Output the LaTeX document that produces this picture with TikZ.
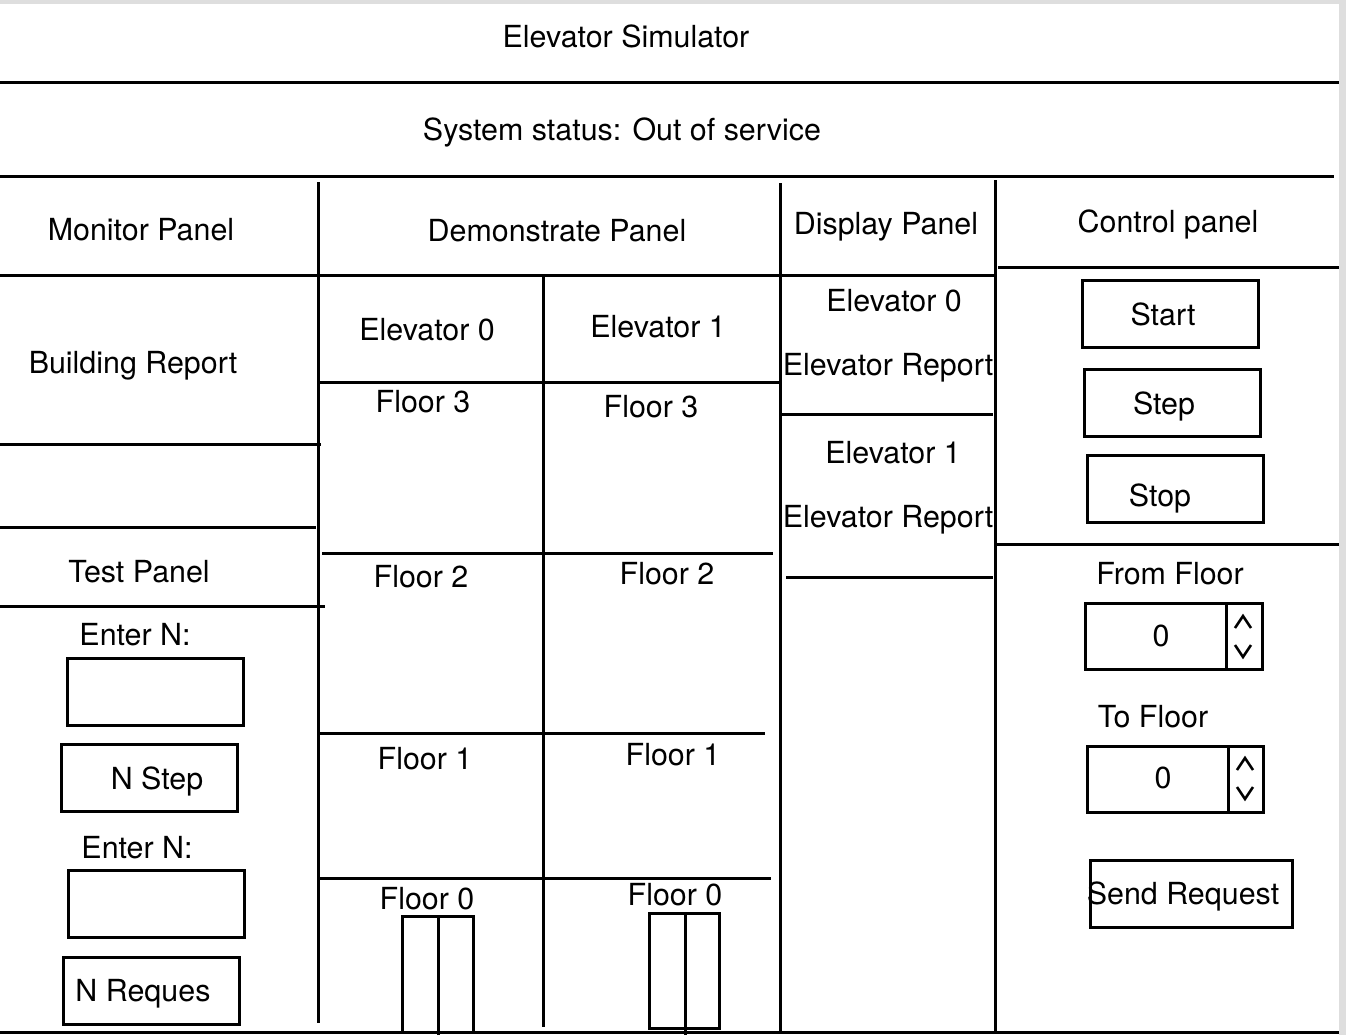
\documentclass[tikz,border=0pt]{standalone}
\usepackage{fontspec}
\setmainfont{TeX Gyre Heros}
\usetikzlibrary{positioning}

\begin{document}
\begin{tikzpicture}[x=0.5pt,y=-0.5pt,
        lbl/.style={font=\fontsize{15.2}{17}\selectfont, inner sep=0pt, text depth=0pt},
        wall/.style={line width=1.5pt},
        btn/.style={draw, line width=1.5pt, inner sep=0pt,
                minimum width=88pt, minimum height=33.5pt},
        chev/.style={line width=1.3pt}]

        % page
        \fill[black!13] (0,0) rectangle (1346,1035);
        \fill[white] (0,4) rectangle (1339,1035);
        \useasboundingbox (0,0) rectangle (1346,1035);

        % header
        \node [lbl] (title) at (626,36) {Elevator Simulator};
        \node [lbl] (status) at (622,129) {System status: Out of service};
        \draw [wall] (0,82) -- (1339,82);
        \draw [wall] (0,176) -- (1334,176);
        \draw [wall] (0,1032) -- (1339,1032);

        % columns
        \draw [wall] (318,182) -- (318,1023);
        \draw [wall] (543,277) -- (543,1027);
        \draw [wall] (780,183) -- (780,1032);
        \draw [wall] (995,180) -- (995,1032);
        \draw [wall] (0,275) -- (995,275);
        \draw [wall] (998,267) -- (1339,267);

        % monitor and test panel
        \node [lbl] (monitor) at (141,229) {Monitor Panel};
        \node [lbl] (building) at (133,362) {Building Report};
        \draw [wall] (0,444) -- (321,444);
        \draw [wall] (0,527) -- (316,527);
        \node [lbl] (test) at (139,571) {Test Panel};
        \draw [wall] (0,606) -- (325,606);
        \node [lbl] (enter0) at (135,634) {Enter N:};
        \node [btn] (field0) at (155,692) {};
        \node [btn] (nstep) at (149.5,778) {};
        \node [lbl] (nsteplbl) at (157,778) {N Step};
        \node [lbl] (enter1) at (137,847) {Enter N:};
        \node [btn] (field1) at (156.5,904) {};
        \node [btn] (nreq) at (151,991) {};
        \node [lbl] (nreqlbl) at (143,990) {N Reques};

        % demonstrate panel
        \node [lbl] (demo) at (557,230) {Demonstrate Panel};
        \node [lbl] (elev0) at (427,329) {Elevator 0};
        \node [lbl] (elev1) at (658,326) {Elevator 1};
        \draw [wall] (318,382) -- (780,382);
        \draw [wall] (322,553) -- (773,553);
        \draw [wall] (320,733) -- (765,733);
        \draw [wall] (320,878) -- (771,878);
        \node [lbl] (f3a) at (423,401) {Floor 3};
        \node [lbl] (f3b) at (651,406) {Floor 3};
        \node [lbl] (f2a) at (421,576) {Floor 2};
        \node [lbl] (f2b) at (667,573) {Floor 2};
        \node [lbl] (f1a) at (425,758) {Floor 1};
        \node [lbl] (f1b) at (673,754) {Floor 1};
        \node [lbl] (f0a) at (427,898) {Floor 0};
        \node [lbl] (f0b) at (675,894) {Floor 0};
        % doors
        \draw [wall] (402,916) rectangle (473,1032);
        \draw [wall] (438,916) -- (438,1035);
        \draw [wall] (649,913) rectangle (719,1028);
        \draw [wall] (685,913) -- (685,1035);

        % display panel
        \node [lbl] (display) at (886,223) {Display Panel};
        \node [lbl] (disp0) at (894,300) {Elevator 0};
        \node [lbl] (rep0) at (888,364) {Elevator Report};
        \draw [wall] (782,414) -- (993,414);
        \node [lbl] (disp1) at (893,452) {Elevator 1};
        \node [lbl] (rep1) at (888,516) {Elevator Report};
        \draw [wall] (786,577) -- (993,577);

        % control panel
        \node [lbl] (control) at (1168,221) {Control panel};
        \node [btn] (startbtn) at (1170.5,314) {};
        \node [lbl] (startlbl) at (1163,314) {Start};
        \node [btn] (stepbtn) at (1172.5,402.5) {};
        \node [lbl] (steplbl) at (1164,403) {Step};
        \node [btn] (stopbtn) at (1175,489) {};
        \node [lbl] (stoplbl) at (1160,495) {Stop};
        \draw [wall] (997,544) -- (1339,544);

        \node [lbl] (fromlbl) at (1170,573) {From Floor};
        \node [btn, minimum width=70.5pt, minimum height=33pt] (fromval) at (1155.5,636) {};
        \node [btn, minimum width=18pt, minimum height=33pt] (fromspin) at (1244,636) {};
        \node [lbl] (fromnum) at (1161,636) {0};
        \draw [chev] (1235,628) -- (1243,616) -- (1251,628);
        \draw [chev] (1235,645) -- (1243,657) -- (1251,645);

        \node [lbl] (tolbl) at (1153,716) {To Floor};
        \node [btn, minimum width=70.5pt, minimum height=33pt] (toval) at (1157.5,779) {};
        \node [btn, minimum width=17.5pt, minimum height=33pt] (tospin) at (1245.5,779) {};
        \node [lbl] (tonum) at (1163,778) {0};
        \draw [chev] (1237,770) -- (1245,758) -- (1253,770);
        \draw [chev] (1237,787) -- (1245,799) -- (1253,787);

        \node [btn, minimum width=101pt] (sendbtn) at (1191,893.5) {};
        \node [lbl] (sendlbl) at (1183,893) {Send Request};

\end{tikzpicture}
\end{document}
